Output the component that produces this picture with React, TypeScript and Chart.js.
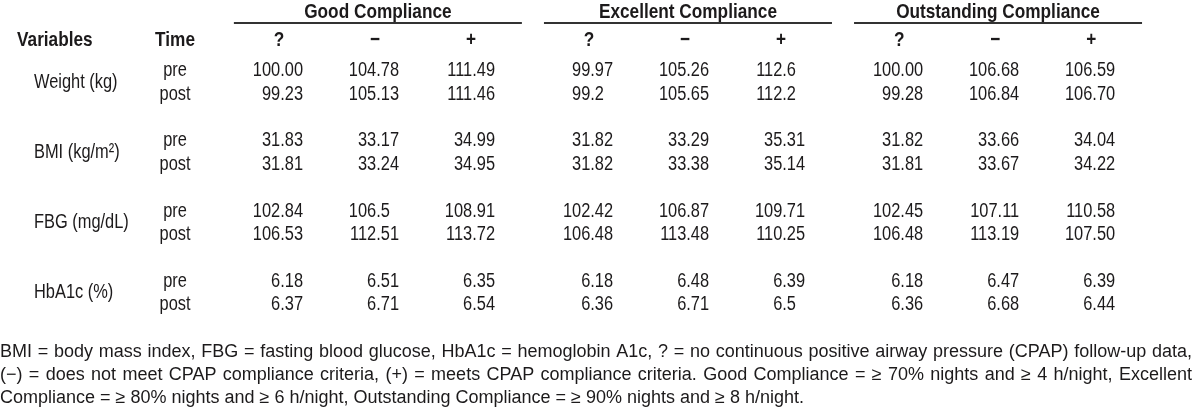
import React, { useEffect, useRef } from "react";
import { Chart, registerables } from "chart.js";

Chart.register(...registerables);

// ---------- data ----------
const groups = ["Good Compliance", "Excellent Compliance", "Outstanding Compliance"];
const subColumns = ["?", "−", "+"];
const headerVariables = "Variables";
const headerTime = "Time";
const variables = ["Weight (kg)", "BMI (kg/m²)", "FBG (mg/dL)", "HbA1c (%)"];
const times = ["pre", "post"];

const weightPre = ["100.00", "104.78", "111.49", "99.97", "105.26", "112.6", "100.00", "106.68", "106.59"];
const weightPost = ["99.23", "105.13", "111.46", "99.2", "105.65", "112.2", "99.28", "106.84", "106.70"];
const bmiPre = ["31.83", "33.17", "34.99", "31.82", "33.29", "35.31", "31.82", "33.66", "34.04"];
const bmiPost = ["31.81", "33.24", "34.95", "31.82", "33.38", "35.14", "31.81", "33.67", "34.22"];
const fbgPre = ["102.84", "106.5", "108.91", "102.42", "106.87", "109.71", "102.45", "107.11", "110.58"];
const fbgPost = ["106.53", "112.51", "113.72", "106.48", "113.48", "110.25", "106.48", "113.19", "107.50"];
const hba1cPre = ["6.18", "6.51", "6.35", "6.18", "6.48", "6.39", "6.18", "6.47", "6.39"];
const hba1cPost = ["6.37", "6.71", "6.54", "6.36", "6.71", "6.5", "6.36", "6.68", "6.44"];

const tableRows = [weightPre, weightPost, bmiPre, bmiPost, fbgPre, fbgPost, hba1cPre, hba1cPost];

const footnoteLines = [
  "BMI = body mass index, FBG = fasting blood glucose, HbA1c = hemoglobin A1c, ? = no continuous positive airway pressure (CPAP) follow-up data,",
  "(−) = does not meet CPAP compliance criteria, (+) = meets CPAP compliance criteria. Good Compliance = ≥ 70% nights and ≥ 4 h/night, Excellent",
  "Compliance = ≥ 80% nights and ≥ 6 h/night, Outstanding Compliance = ≥ 90% nights and ≥ 8 h/night.",
];
const footnoteJustified = [true, true, false];

// ---------- layout (scale units) ----------
const GROUP_STEP = 3.23;
const ROW_POS = [0, 1, 3, 4, 6, 7, 9, 10];
const colPos = (g: number, c: number) => g * GROUP_STEP + c;

const X_MIN = -3.15625;
const X_MAX = 9.34375;
const Y_MIN = -2.9487;
const Y_MAX = 14.5726;

const Y_TITLE = -2.52;
const Y_RULE = -1.98;
const Y_SUBHEAD = -1.30;
const Y_FOOT = [12.05, 13.03, 14.01];
const X_VARHEAD = -2.979;
const X_VARNAME = -2.802;
const X_TIME = -1.333;
const SUBHEAD_OFFSET = -0.25;
const RULE_LEFT = -0.72;
const RULE_RIGHT = 0.28;
const FOOT_LEFT = -3.156;
const FOOT_RIGHT = 9.26;

const TEXT_COLOR = "#1c1a1b";
const RULE_COLOR = "#333333";

type FontSpec = { family: string; sx: number };

function pickNarrow(): FontSpec {
  const c = document.createElement("canvas").getContext("2d")!;
  c.font = '20px "Liberation Sans Narrow", monospace';
  const a = c.measureText("Compliance 0123456789").width;
  c.font = "20px monospace";
  const b = c.measureText("Compliance 0123456789").width;
  if (Math.abs(a - b) > 0.5) return { family: '"Liberation Sans Narrow"', sx: 1 };
  return { family: '"Liberation Sans", Arial, sans-serif', sx: 0.82 };
}
const REGULAR: FontSpec = { family: '"Liberation Sans", Arial, sans-serif', sx: 1 };

export default function App() {
  const ref = useRef<HTMLCanvasElement | null>(null);

  useEffect(() => {
    if (!ref.current) return;
    const narrow = pickNarrow();
    let cur: FontSpec = narrow;

    const setFont = (ctx: CanvasRenderingContext2D, f: FontSpec, size: number, bold = false) => {
      cur = f;
      ctx.font = `${bold ? "bold " : ""}${size}px ${f.family}`;
    };
    const width = (ctx: CanvasRenderingContext2D, s: string) => ctx.measureText(s).width * cur.sx;
    const draw = (
      ctx: CanvasRenderingContext2D,
      s: string,
      x: number,
      y: number,
      size: number,
      align: "left" | "center" | "right"
    ) => {
      const w = width(ctx, s);
      let left = x;
      if (align === "center") left = x - w / 2;
      if (align === "right") left = x - w;
      ctx.save();
      ctx.translate(left, y + size * 0.358);
      ctx.scale(cur.sx, 1);
      ctx.textAlign = "left";
      ctx.textBaseline = "alphabetic";
      ctx.fillText(s, 0, 0);
      ctx.restore();
    };
    const padded = (s: string) => {
      const parts = s.split(".");
      const dec = parts[1] || "";
      return parts[0] + "." + dec.padEnd(2, "0");
    };

    const tablePlugin = {
      id: "tablePlugin",
      beforeDraw(chart: any) {
        const ctx = chart.ctx as CanvasRenderingContext2D;
        ctx.save();
        ctx.fillStyle = "#ffffff";
        ctx.fillRect(0, 0, chart.width, chart.height);
        ctx.restore();
      },
      afterDatasetsDraw(chart: any) {
        const ctx = chart.ctx as CanvasRenderingContext2D;
        const xs = chart.scales.x;
        const ys = chart.scales.y;
        const px = (v: number) => xs.getPixelForValue(v);
        const py = (v: number) => ys.getPixelForValue(v);
        ctx.save();
        ctx.fillStyle = TEXT_COLOR;

        // group titles, rules and sub-column headers
        groups.forEach((g, gi) => {
          const l = px(colPos(gi, 0) + RULE_LEFT);
          const r = px(colPos(gi, subColumns.length - 1) + RULE_RIGHT);
          setFont(ctx, narrow, 21, true);
          draw(ctx, g, (l + r) / 2, py(Y_TITLE), 21, "center");
          ctx.strokeStyle = RULE_COLOR;
          ctx.lineWidth = 2;
          ctx.beginPath();
          ctx.moveTo(l, Math.round(py(Y_RULE)));
          ctx.lineTo(r, Math.round(py(Y_RULE)));
          ctx.stroke();
          subColumns.forEach((sc, ci) => {
            draw(ctx, sc, px(colPos(gi, ci) + SUBHEAD_OFFSET), py(Y_SUBHEAD), 21, "center");
          });
        });
        setFont(ctx, narrow, 21, true);
        draw(ctx, headerVariables, px(X_VARHEAD), py(Y_SUBHEAD), 21, "left");
        draw(ctx, headerTime, px(X_TIME), py(Y_SUBHEAD), 21, "center");

        // row labels
        setFont(ctx, narrow, 20, false);
        variables.forEach((v, vi) => {
          const yc = (py(ROW_POS[vi * 2]) + py(ROW_POS[vi * 2 + 1])) / 2;
          draw(ctx, v, px(X_VARNAME), yc, 20, "left");
          times.forEach((t, ti) => {
            draw(ctx, t, px(X_TIME), py(ROW_POS[vi * 2 + ti]), 20, "center");
          });
        });

        // cells, placed at the dataset points (decimal-aligned)
        chart.data.datasets.forEach((ds: any, di: number) => {
          const meta = chart.getDatasetMeta(di);
          meta.data.forEach((el: any, ri: number) => {
            const s = tableRows[ri][di];
            const w = width(ctx, padded(s));
            draw(ctx, s, el.x - w, el.y, 20, "left");
          });
        });

        // footnote
        setFont(ctx, REGULAR, 18, false);
        const fl = px(FOOT_LEFT);
        const fr = px(FOOT_RIGHT);
        footnoteLines.forEach((line, li) => {
          const y = py(Y_FOOT[li]);
          if (!footnoteJustified[li]) {
            draw(ctx, line, fl, y, 18, "left");
            return;
          }
          const words = line.split(" ");
          const ws = words.map((w) => width(ctx, w));
          const total = ws.reduce((a, b) => a + b, 0);
          const gap = (fr - fl - total) / (words.length - 1);
          let x = fl;
          words.forEach((w, wi) => {
            draw(ctx, w, x, y, 18, "left");
            x += ws[wi] + gap;
          });
        });
        ctx.restore();
      },
    };

    const datasets = groups.flatMap((_, gi) =>
      subColumns.map((sc, ci) => ({
        label: `${groups[gi]} ${sc}`,
        data: tableRows.map((_, ri) => ({ x: colPos(gi, ci), y: ROW_POS[ri] })),
        pointRadius: 0,
        pointHoverRadius: 0,
        showLine: false,
      }))
    );

    const chart = new Chart(ref.current, {
      type: "scatter",
      data: { datasets },
      options: {
        animation: false,
        responsive: false,
        maintainAspectRatio: false,
        devicePixelRatio: 1,
        layout: { padding: 0 },
        events: [],
        plugins: { legend: { display: false }, tooltip: { enabled: false } },
        scales: {
          x: { type: "linear", min: X_MIN, max: X_MAX, display: false },
          y: { type: "linear", min: Y_MIN, max: Y_MAX, reverse: true, display: false },
        },
      },
      plugins: [tablePlugin],
    });
    return () => chart.destroy();
  }, []);

  return (
    <div style={{ position: "fixed", left: 0, top: 0, width: 1200, height: 410, background: "#fff" }}>
      <canvas ref={ref} width={1200} height={410} style={{ display: "block", width: 1200, height: 410 }} />
    </div>
  );
}
